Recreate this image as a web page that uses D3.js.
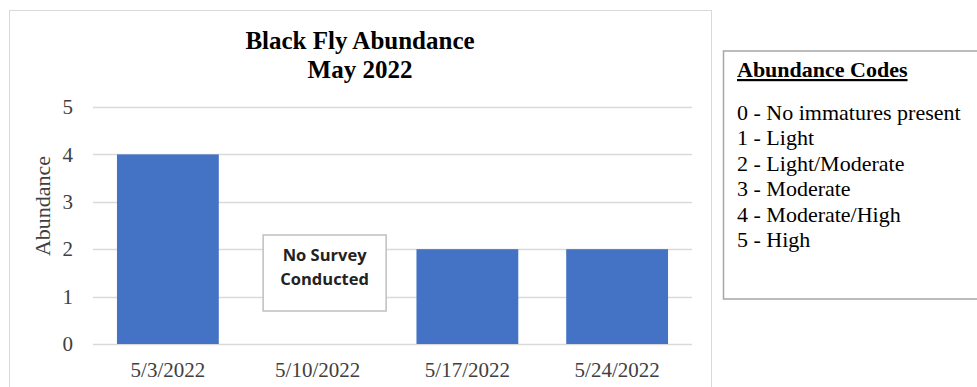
<!DOCTYPE html>
<html>
<head>
<meta charset="utf-8">
<script src="https://cdn.jsdelivr.net/npm/d3@7"></script>
<style>
  html, body { margin: 0; padding: 0; background: #fff; }
  svg { display: block; }
</style>
</head>
<body>
<svg id="drawing_region"></svg>
<script>
// data
const dates = ["5/3/2022", "5/10/2022", "5/17/2022", "5/24/2022"];
const abundance = [4, null, 2, 2];
const yTicks = [0, 1, 2, 3, 4, 5];
const codeLabels = [
    "0 - No immatures present",
    "1 - Light",
    "2 - Light/Moderate",
    "3 - Moderate",
    "4 - Moderate/High",
    "5 - High"
];
const noSurveyDate = "5/10/2022";

const width = 977, height = 387;
const serif = "'Liberation Serif', 'Times New Roman', serif";
const margin = { top: 107, right: 285, bottom: 43, left: 93 };

const svg = d3.select("#drawing_region")
    .attr("width", width)
    .attr("height", height);

// chart area frame
svg.append("rect")
    .attr("x", 9.5).attr("y", 10.5)
    .attr("width", 702).attr("height", 400)
    .attr("fill", "#fff")
    .attr("stroke", "#d9d9d9");

const inner_width = width - margin.left - margin.right;
const inner_height = height - margin.top - margin.bottom;

const xscale = d3.scaleBand()
    .domain(dates)
    .range([margin.left, margin.left + inner_width])
    .paddingInner(0.32)
    .paddingOuter(0.16);

const yscale = d3.scaleLinear()
    .domain([0, 5])
    .range([margin.top + inner_height, margin.top]);

// gridlines
svg.append("g")
    .selectAll("line")
    .data(yTicks)
    .join("line")
    .attr("x1", margin.left)
    .attr("x2", margin.left + inner_width)
    .attr("y1", d => Math.round(yscale(d)) + 0.5)
    .attr("y2", d => Math.round(yscale(d)) + 0.5)
    .attr("stroke", "#d9d9d9")
    .attr("stroke-width", 1.5);

// y axis labels
const yaxis = d3.axisLeft(yscale).tickValues(yTicks).tickFormat(d3.format("d")).tickSize(0).tickPadding(20);
const yg = svg.append("g")
    .attr("transform", `translate(${margin.left},0)`)
    .call(yaxis);
yg.select(".domain").remove();
yg.selectAll("text")
    .attr("font-family", serif)
    .attr("font-size", 21)
    .attr("fill", "#404040");

// bars
svg.append("g")
    .selectAll("rect")
    .data(dates.map((d, i) => ({ date: d, value: abundance[i] })).filter(d => d.value !== null))
    .join("rect")
    .attr("x", d => xscale(d.date))
    .attr("width", xscale.bandwidth())
    .attr("y", d => yscale(d.value))
    .attr("height", d => yscale(0) - yscale(d.value))
    .attr("fill", "#4472c4");

// x axis labels
const xaxis = d3.axisBottom(xscale).tickSize(0);
const xg = svg.append("g")
    .attr("transform", `translate(0,${yscale(0)})`)
    .call(xaxis);
xg.select(".domain").remove();
xg.selectAll("text")
    .attr("y", 33)
    .attr("dy", null)
    .attr("font-family", serif)
    .attr("font-size", 21)
    .attr("fill", "#404040");

// axis title
svg.append("text")
    .attr("transform", "translate(50, 206) rotate(-90)")
    .attr("text-anchor", "middle")
    .attr("font-family", serif)
    .attr("font-size", 22)
    .attr("fill", "#404040")
    .text("Abundance");

// title
const title = svg.append("text")
    .attr("text-anchor", "middle")
    .attr("font-family", serif)
    .attr("font-size", 25)
    .attr("font-weight", "bold")
    .attr("fill", "#000");
title.append("tspan").attr("x", 360).attr("y", 49).text("Black Fly Abundance");
title.append("tspan").attr("x", 360).attr("y", 78).text("May 2022");

// "No Survey Conducted" note
const cx = xscale(noSurveyDate) + xscale.bandwidth() / 2 + 7;
svg.append("rect")
    .attr("x", cx - 61.5).attr("y", 235)
    .attr("width", 123).attr("height", 76)
    .attr("fill", "#fff")
    .attr("stroke", "#bfbfbf")
    .attr("stroke-width", 1.5);
const note = svg.append("text")
    .attr("text-anchor", "middle")
    .attr("font-family", "'Open Sans', 'Liberation Sans', sans-serif")
    .attr("font-size", 16.5)
    .attr("font-weight", "bold")
    .attr("fill", "#222");
note.append("tspan").attr("x", cx).attr("y", 261).text("No Survey");
note.append("tspan").attr("x", cx).attr("y", 285).text("Conducted");

// abundance codes box
svg.append("rect")
    .attr("x", 723.5).attr("y", 51)
    .attr("width", 270).attr("height", 248)
    .attr("fill", "#fff")
    .attr("stroke", "#a6a6a6")
    .attr("stroke-width", 1.5);
svg.append("text")
    .attr("x", 737).attr("y", 77)
    .attr("font-family", serif)
    .attr("font-size", 22)
    .attr("font-weight", "bold")
    .attr("text-decoration", "underline")
    .attr("fill", "#000")
    .text("Abundance Codes");
svg.append("g")
    .selectAll("text")
    .data(codeLabels)
    .join("text")
    .attr("x", 737)
    .attr("y", (d, i) => 120 + i * 25.4)
    .attr("font-family", serif)
    .attr("font-size", 22)
    .attr("fill", "#000")
    .text(d => d);
</script>
</body>
</html>
